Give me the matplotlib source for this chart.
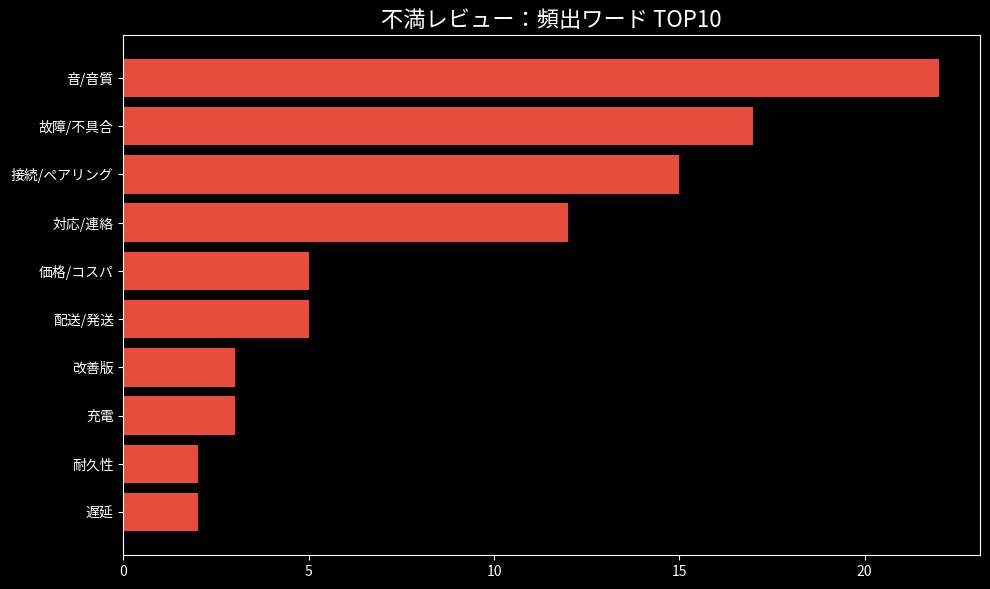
import matplotlib
matplotlib.use("Agg")
import matplotlib.pyplot as plt

words = ["音/音質", "故障/不具合", "接続/ペアリング", "対応/連絡", "価格/コスパ",
         "配送/発送", "改善版", "充電", "耐久性", "遅延"]
counts = [22, 17, 15, 12, 5, 5, 3, 3, 2, 2]

plt.style.use("dark_background")
plt.rcParams['font.family'] = ['Noto Sans CJK JP', 'DejaVu Sans']

fig, ax = plt.subplots(figsize=(9.9, 5.89), dpi=100)
fig.subplots_adjust(left=0.1247, right=0.9894, top=0.9406, bottom=0.0577)

# largest at top
ax.barh(words[::-1], counts[::-1], color="#e74c3c", height=0.8)
ax.set_title("不満レビュー：頻出ワード TOP10", fontsize=16)

fig.savefig("out.png", dpi=100, facecolor="black")
